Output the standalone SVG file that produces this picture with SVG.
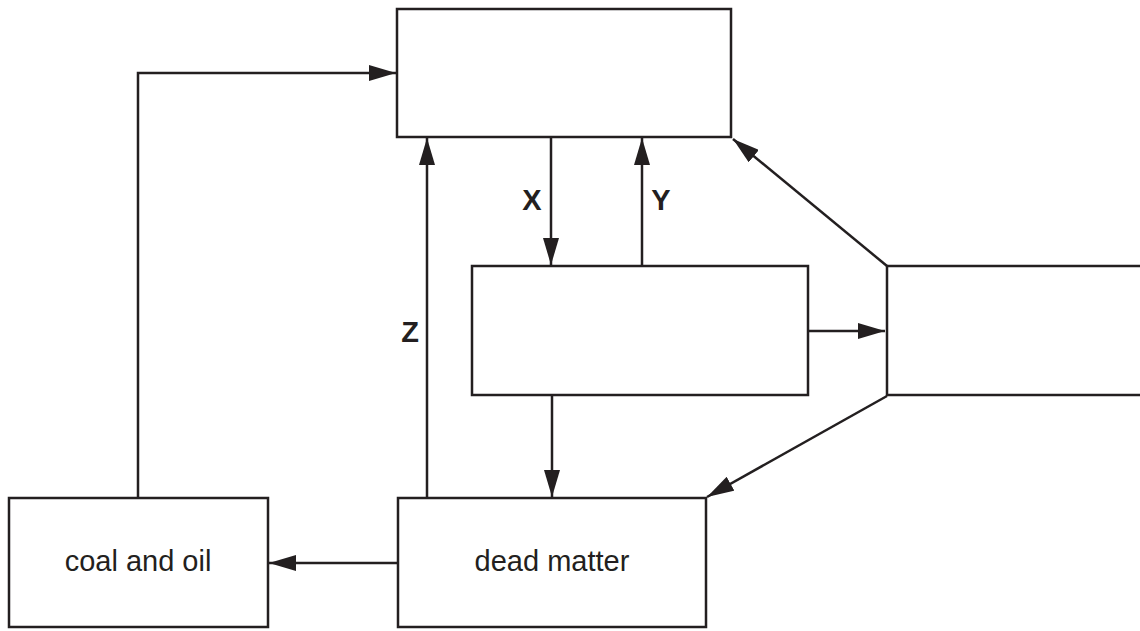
<svg xmlns="http://www.w3.org/2000/svg" width="1140" height="631" viewBox="0 0 1140 631">
<style>
.box{fill:#fff;stroke:#231f20;stroke-width:2.5}
.ln{fill:none;stroke:#231f20;stroke-width:2.5}
.t{font-family:"Liberation Sans",Arial,sans-serif;font-size:29px;fill:#231f20;text-anchor:middle}
.b{font-weight:bold}
</style>
<defs>
<marker id="ah" markerUnits="userSpaceOnUse" markerWidth="28" markerHeight="16" refX="27" refY="8" orient="auto">
<path d="M0,0 L27,8 L0,16 Z" fill="#231f20"/>
</marker>
</defs>
<g id="connectors">
<path class="ln" d="M138,498 V73 H396" marker-end="url(#ah)"/>
<path class="ln" d="M427,498 V138" marker-end="url(#ah)"/>
<path class="ln" d="M551,137 V265" marker-end="url(#ah)"/>
<path class="ln" d="M642,266 V138" marker-end="url(#ah)"/>
<path class="ln" d="M552,395 V497" marker-end="url(#ah)"/>
<path class="ln" d="M808,331 H885" marker-end="url(#ah)"/>
<path class="ln" d="M887,266 L733,139" marker-end="url(#ah)"/>
<path class="ln" d="M887,396 L707,497" marker-end="url(#ah)"/>
<path class="ln" d="M398,563 H269" marker-end="url(#ah)"/>
</g>
<g id="top"><rect class="box" x="397" y="9" width="334" height="128"/></g>
<g id="middle"><rect class="box" x="472" y="266" width="336" height="129"/></g>
<g id="right"><rect class="box" x="887" y="266" width="260" height="129"/></g>
<g id="coal"><rect class="box" x="9" y="498" width="259" height="129"/><text class="t" x="138" y="571">coal and oil</text></g>
<g id="dead"><rect class="box" x="398" y="498" width="308" height="129"/><text class="t" x="552" y="571">dead matter</text></g>
<g id="labels">
<text class="t b" x="532" y="210">X</text>
<text class="t b" x="661" y="210">Y</text>
<text class="t b" x="410" y="342">Z</text>
</g>
</svg>
